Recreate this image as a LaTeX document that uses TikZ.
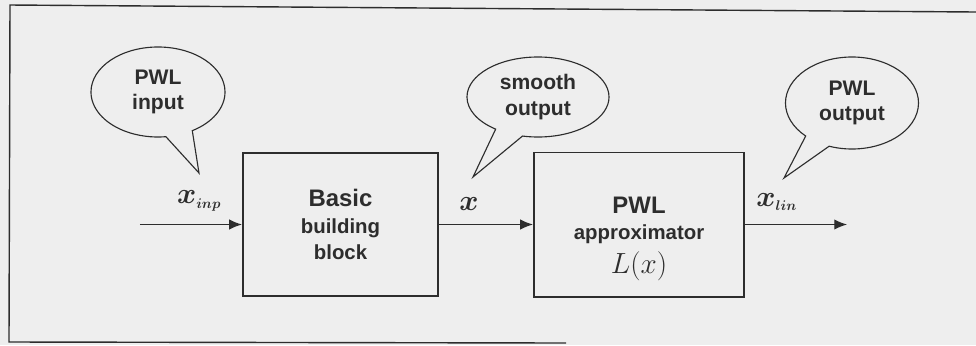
\documentclass[tikz,border=0pt]{standalone}
\usepackage{fontspec}
\setsansfont{Liberation Sans}
\usetikzlibrary{positioning,arrows.meta,calc,shapes.callouts}
\definecolor{paper}{RGB}{238,238,238}
\definecolor{ink}{RGB}{45,45,45}
\tikzset{
  blk/.style={draw=ink, line width=1.4pt, align=center, text=ink,
    font=\sffamily\bfseries\fontsize{14.5}{19}\selectfont, inner sep=2pt},
  bubble/.style={ellipse callout, draw=ink, line width=0.8pt, align=center,
    text=ink, font=\sffamily\bfseries\fontsize{15}{18}\selectfont,
    inner sep=0pt, callout pointer arc=24},
  sig/.style={text=ink, font=\boldmath\fontsize{20}{20}\selectfont, inner sep=1pt},
  flow/.style={-{Latex[length=3.2mm,width=2.6mm]}, line width=0.9pt, draw=ink},
}
\begin{document}
\begin{tikzpicture}[x=0.025cm, y=-0.025cm]
  \fill[paper] (0,0) rectangle (976,345);
  \useasboundingbox (0,0) rectangle (976,345);
  \draw[ink, line width=1pt] (976,12) -- (10,5) -- (9,342) -- (566,343);
  % blocks
  \node[blk, minimum width=4.875cm, minimum height=3.575cm] (bbb) at (340.5,224.5)
    {{\fontsize{17}{19}\selectfont Basic}\\building\\block};
  \node[blk, minimum width=5.25cm, minimum height=3.6cm, right=2.35cm of bbb] (pwl)
    {{\fontsize{17}{19}\selectfont\rule{0pt}{32pt}PWL}\\approximator\\[5pt]
     {\mdseries\fontsize{20}{22}\selectfont $L(x)$}};
  \coordinate[left=2.55cm of bbb.west] (in);
  \coordinate[right=2.55cm of pwl.east] (out);
  \draw[flow] (in) -- (bbb.west);
  \draw[flow] (bbb) -- (pwl);
  \draw[flow] (pwl.east) -- (out);
  % signals
  \node[sig, above=3mm] (xinp) at ($(in)!0.58!(bbb.west)$) {$x_{\scriptscriptstyle inp}$};
  \node[sig, above=3mm] (xs) at ($(bbb.east)!0.32!(pwl.west)$) {$x$};
  \node[sig, above=3mm] (xlin) at ($(pwl.east)!0.31!(out)$) {$x_{\scriptscriptstyle lin}$};
  % callouts
  \coordinate (tipa) at (199,173);
  \coordinate (tipb) at (473,177);
  \coordinate (tipc) at (784,178);
  \node[bubble, minimum width=3.35cm, minimum height=2.25cm,
    callout absolute pointer={(tipa)}] (cin) at (158,92) {PWL\\input};
  \node[bubble, minimum width=3.55cm, minimum height=2.0cm,
    callout absolute pointer={(tipb)}] (csm) at (538,97) {smooth\\output};
  \node[bubble, minimum width=3.325cm, minimum height=2.3cm,
    callout absolute pointer={(tipc)}] (cout) at (852,103) {PWL\\output};
\end{tikzpicture}
\end{document}
